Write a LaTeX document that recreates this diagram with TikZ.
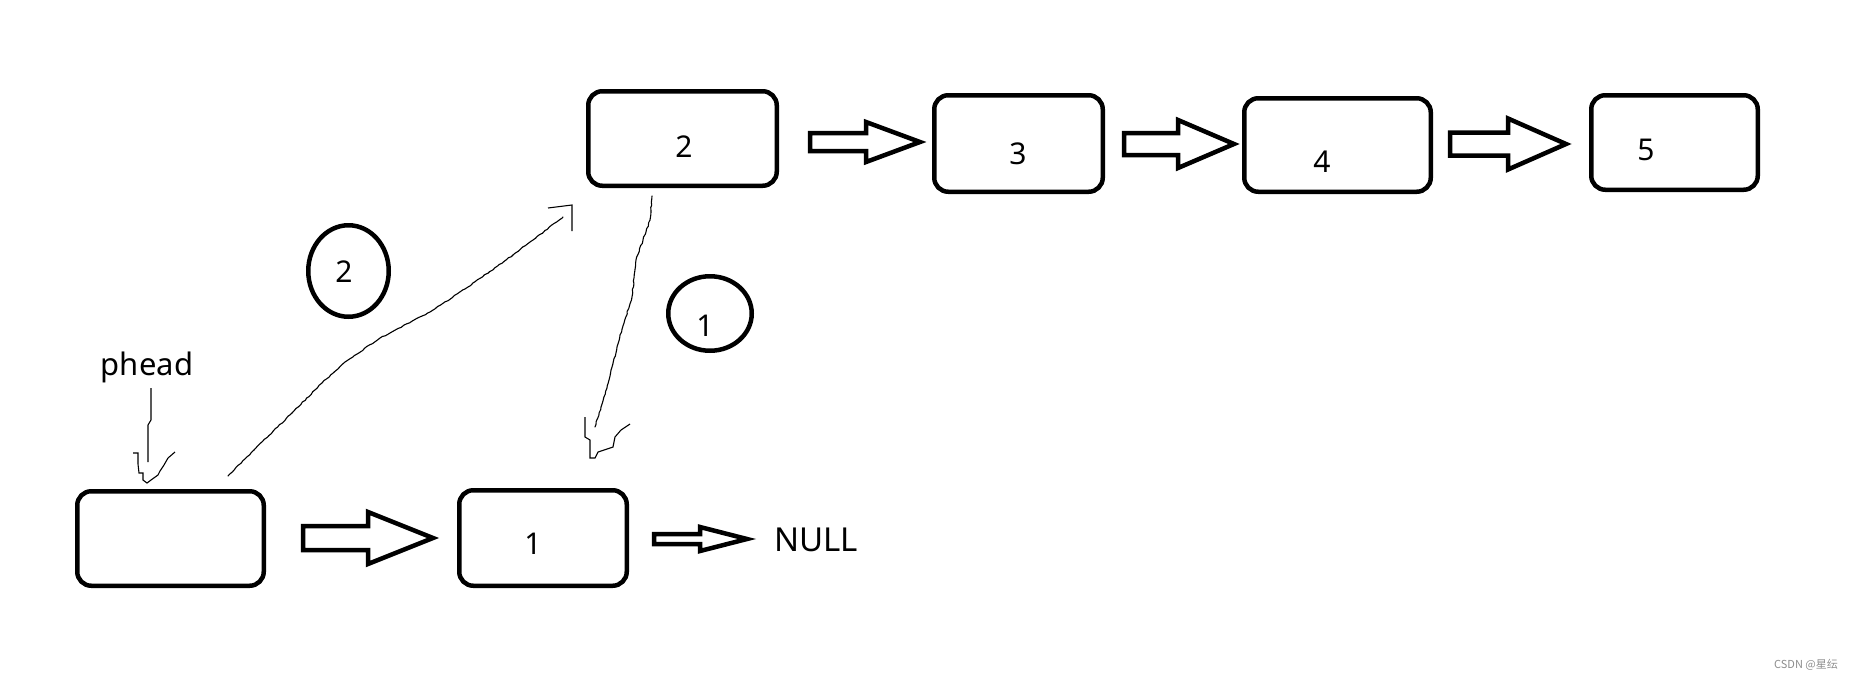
\documentclass[tikz,border=0pt]{standalone}
\usepackage{fontspec}
\setmainfont{Noto Sans}
\newfontfamily\cjk{Noto Sans CJK SC}
\usetikzlibrary{shapes.geometric,decorations.pathmorphing}
\newcommand\blkarrow[6]{% x1 x2 x3 yc shaft-half head-half
  \draw[blockarrow] (#1,#4-#5)--(#2,#4-#5)--(#2,#4-#6)--(#3,#4)--(#2,#4+#6)--(#2,#4+#5)--(#1,#4+#5)--cycle;}
\begin{document}
\begin{tikzpicture}[x=1pt,y=-1pt,
  box/.style={draw,line width=4.5pt,rounded corners=14pt,inner sep=0pt},
  oval/.style={draw,ellipse,line width=4.5pt,inner sep=0pt},
  blockarrow/.style={draw,line width=4.5pt,line join=miter,fill=white},
  numtxt/.style={font=\fontsize{30}{30}\selectfont,inner sep=0pt},
  pencil/.style={line width=1.1pt,line join=round,line cap=round,
     decorate,decoration={random steps,segment length=3pt,amplitude=0.5pt}},
  tip/.style={line width=1.1pt,line join=miter}]
\pgfmathsetseed{7}
\useasboundingbox (0,0) rectangle (1858,681);
% boxes
\node[box,minimum width=186.5pt,minimum height=94.5pt] (b0) at (170.5,538.5) {};
\node[box,minimum width=167.5pt,minimum height=95.5pt] (b1) at (543,538) {};
\node[box,minimum width=188.5pt,minimum height=94.5pt] (b2) at (682.5,138.5) {};
\node[box,minimum width=168.5pt,minimum height=96.5pt] (b3) at (1018.5,143.5) {};
\node[box,minimum width=186.5pt,minimum height=93.5pt] (b4) at (1337.5,145) {};
\node[box,minimum width=166.5pt,minimum height=94.5pt] (b5) at (1674.5,142.5) {};
% box texts
\node[numtxt] (t1) at (533,544) {1};
\node[numtxt] (t2) at (684,147) {2};
\node[numtxt] (t3) at (1018,154) {3};
\node[numtxt] (t4) at (1322,162) {4};
\node[numtxt] (t5) at (1646,150) {5};
\node[font=\fontsize{33}{33}\selectfont,inner sep=0pt] (null) at (816,540) {NULL};
\node[font=\fontsize{31}{31}\selectfont,inner sep=0pt] (phead) at (147,367) {phead};
% ellipses
\node[oval,minimum width=80.5pt,minimum height=91.5pt] (e2) at (348.5,271) {};
\node[numtxt] (et2) at (344,272) {2};
\node[oval,minimum width=83.5pt,minimum height=74.5pt] (e1) at (710,313.5) {};
\node[numtxt] (et1) at (705,326) {1};
% block arrows
\blkarrow{303}{368}{433}{538}{12}{26}
\blkarrow{654}{700}{747}{539}{5}{12}
\blkarrow{810}{866}{920}{142}{9}{20}
\blkarrow{1124}{1178}{1234}{144}{11}{24}
\blkarrow{1450}{1508}{1566}{144}{11.5}{25.5}
% hand-drawn pointer: phead -> b0
\coordinate (p0) at (151,388);
\coordinate (p1) at (148,462);
\draw[tip] (p0) -- (151,420) -- (148,425) -- (p1);
\draw[tip] (133,453) -- (138,453) -- (138,464) -- (139,473) -- (143,473) -- (143,480)
  -- (147,483) -- (151,480) -- (158,475) -- (160,471) -- (164,465) -- (168,458) -- (175,452);
% hand-drawn pointer: b0 -> b2
\coordinate (q0) at (228,476);
\coordinate (q1) at (563,217);
\draw[pencil] (q0) -- (254,450) -- (292,413) -- (322,383) -- (345,362) -- (380,338)
  -- (430,312) -- (468,287) -- (506,260) -- (533,240) -- (q1);
\draw[tip] (548,208) -- (572,205) -- (572,231);
% hand-drawn pointer: b2 -> b1
\coordinate (r0) at (652,196);
\coordinate (r1) at (595,427);
\draw[pencil] (r0) -- (650,220) -- (643,240) -- (636,260) -- (632,297) -- (624,323)
  -- (617,347) -- (609,380) -- (601,407) -- (r1);
\draw[tip] (585,417) -- (585,437) -- (590,440) -- (590,458) -- (595,458) -- (598,452)
  -- (613,447) -- (615,437) -- (621,430) -- (630,424);
% watermark
\node[font=\cjk\fontsize{11}{11}\selectfont,text=black!45,inner sep=0pt] (wm) at (1806,665) {CSDN @星纭};
\end{tikzpicture}
\end{document}
